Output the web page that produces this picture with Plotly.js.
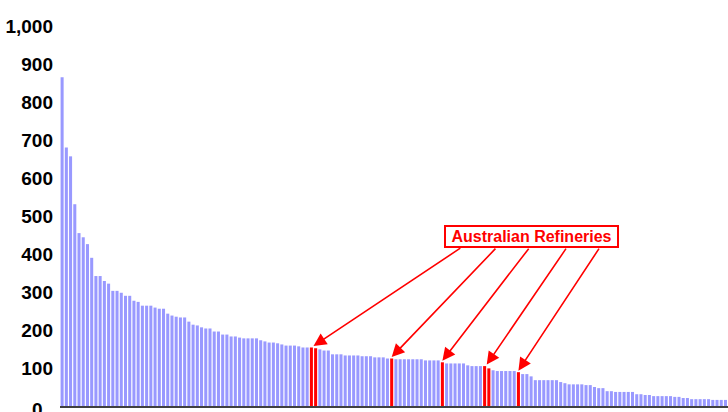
<!DOCTYPE html>
<html>
<head>
<meta charset="utf-8">
<script src="https://cdn.plot.ly/plotly-3.0.1.min.js"></script>
<style>html,body{margin:0;padding:0;background:#fff;}#chart{width:728px;height:412px;}</style>
</head>
<body>
<div id="chart"></div>
<script>
// Refinery capacities sorted descending (thousand barrels/day)
const capacities = [
  865,680,657,531,455,444,426,390,342,342,
  329,322,303,303,298,290,290,277,274,264,
  264,264,259,256,256,243,238,235,233,233,
  222,214,212,207,204,204,196,196,188,188,
  183,183,180,178,178,178,178,173,170,167,
  167,165,162,159,159,159,157,154,154,154,
  152,149,146,146,136,136,136,133,133,133,
  133,131,131,131,128,128,128,125,125,123,
  123,123,123,123,123,123,120,120,120,120,
  115,112,112,112,112,112,107,105,105,105,
  105,99,94,92,92,92,92,92,89,84,
  84,78,68,68,68,68,68,68,63,60,
  57,57,57,57,55,55,50,47,47,39,
  39,37,37,37,37,37,31,31,29,29,
  26,26,26,26,26,24,24,21,21,18,
  18,18,18,18,16,16,16,16
];
// 1-based positions of the Australian refineries in the ranking
const australianRanks = [60, 61, 79, 91, 101, 102, 109];
const yTicks = [100,200,300,400,500,600,700,800,900,1000];
const zeroLabel = "0";
const labelText = "Australian Refineries";

const xs = capacities.map((v, i) => i);
const colors = capacities.map((v, i) => australianRanks.includes(i + 1) ? "#FF0000" : "#9999FF");

const tickFont = {family: "Arial, 'Liberation Sans', sans-serif", size: 19, color: "#000000", weight: "bold"};

// arrow targets: tops of the highlighted bars (groups)
const arrowTargets = [[60, 61], [79], [91], [101, 102], [109]];
const tailX = [94.6, 102.9, 110.7, 119.5, 127.3];
const tailY = 418;

const annotations = [];
arrowTargets.forEach((grp, k) => {
  const xi = grp.reduce((a, r) => a + (r - 1), 0) / grp.length;
  const yi = Math.max(...grp.map(r => capacities[r - 1]));
  annotations.push({
    x: xi, y: yi + 4, xref: "x", yref: "y",
    ax: tailX[k], ay: tailY, axref: "x", ayref: "y",
    text: "", showarrow: true,
    arrowhead: 2, arrowsize: 1.6, arrowwidth: 1.6, arrowcolor: "#FF0000",
    standoff: 0, startstandoff: 0
  });
});
annotations.push({
  x: 111.0, y: 447, xref: "x", yref: "y",
  text: "\u00a0" + labelText + "\u00a0",
  showarrow: false,
  font: {family: "Arial, 'Liberation Sans', sans-serif", size: 16, color: "#FF0000", weight: "bold"},
  bgcolor: "#FFFFFF", bordercolor: "#FF0000", borderwidth: 2, borderpad: 1,
  xanchor: "center", yanchor: "middle"
});
// zero tick label (sits on the bottom edge, partly cut off)
annotations.push({
  x: 0, xref: "paper", xanchor: "right", xshift: -15,
  y: 0, yref: "y", yanchor: "middle", yshift: -3,
  text: zeroLabel, showarrow: false, font: tickFont
});

const data = [{
  type: "bar",
  x: xs,
  y: capacities,
  marker: {color: colors, line: {width: 0}},
  hoverinfo: "skip"
}];

const layout = {
  width: 728, height: 412,
  margin: {l: 60, r: 0, t: 26, b: 6, pad: 0},
  paper_bgcolor: "#FFFFFF", plot_bgcolor: "#FFFFFF",
  bargap: 0.28,
  showlegend: false,
  xaxis: {
    range: [-0.5, 157.6], showticklabels: false, showgrid: false, zeroline: false,
    showline: true, linecolor: "#404040", linewidth: 2, ticks: ""
  },
  yaxis: {
    range: [0, 1000], tickvals: yTicks, tickformat: ",",
    showgrid: false, zeroline: false, showline: false, ticks: "",
    ticklabelstandoff: 6,
    tickfont: tickFont
  },
  annotations: annotations
};

Plotly.newPlot("chart", data, layout, {staticPlot: true, displayModeBar: false});
</script>
</body>
</html>
